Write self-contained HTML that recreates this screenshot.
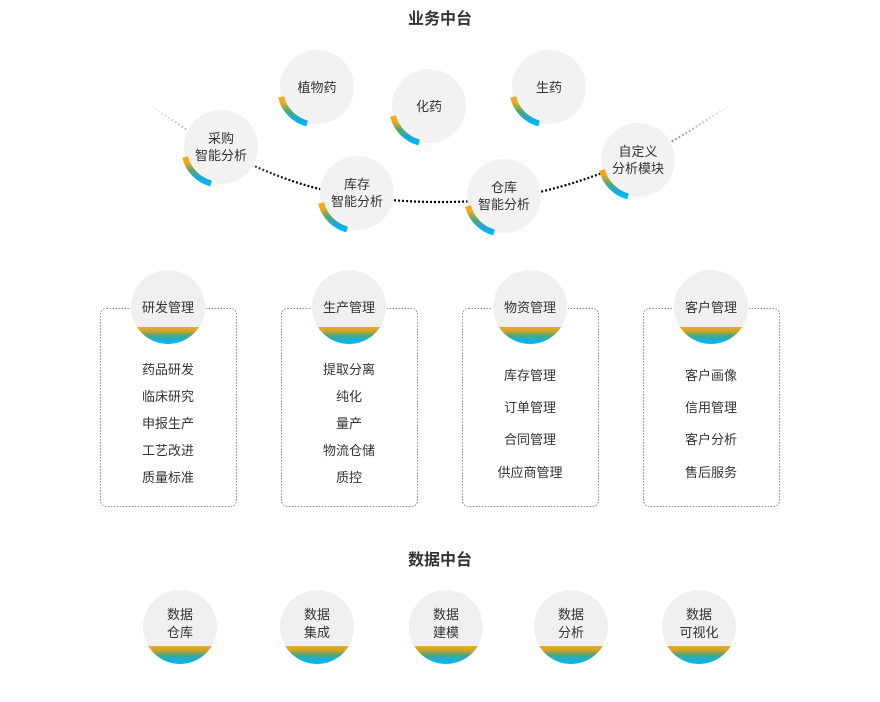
<!DOCTYPE html>
<html><head><meta charset="utf-8"><style>
html,body{margin:0;padding:0;background:#fff;}
svg text{font-family:"Liberation Sans","Noto Sans CJK SC",sans-serif;fill:#333;}
</style></head><body>
<svg width="880" height="697" viewBox="0 0 880 697" xmlns="http://www.w3.org/2000/svg">
<defs>
<linearGradient id="ag" x1="0" y1="0" x2="0" y2="1">
<stop offset="0" stop-color="#f5a623"/><stop offset="0.2" stop-color="#f0aa20"/><stop offset="0.5" stop-color="#5aa66a"/><stop offset="0.8" stop-color="#19a9d8"/><stop offset="1" stop-color="#00b7f5"/>
</linearGradient>
<linearGradient id="bg" x1="0" y1="0" x2="0" y2="1">
<stop offset="0" stop-color="#f5a623"/><stop offset="0.25" stop-color="#c9a52e"/><stop offset="0.5" stop-color="#4fa57a"/><stop offset="0.75" stop-color="#14b0dc"/><stop offset="1" stop-color="#00b8f5"/>
</linearGradient>
<linearGradient id="lf" x1="0" y1="0" x2="1" y2="0">
<stop offset="0" stop-color="#000" stop-opacity="0"/><stop offset="0.25" stop-color="#000" stop-opacity="1"/><stop offset="0.75" stop-color="#000" stop-opacity="1"/><stop offset="1" stop-color="#000" stop-opacity="0"/>
</linearGradient>
<clipPath id="c1"><circle cx="0" cy="0" r="37"/></clipPath>
</defs>

<text x="440" y="24" font-size="16" font-weight="bold" text-anchor="middle">业务中台</text>

<path d="M148,104 C180,125 200,140 221,150 C270,175 310,190 357,196 C410,204 460,203 504,199 C560,190 600,175 638,158 C680,140 705,120 732,104" fill="none" stroke="url(#lf)" stroke-width="2.2" stroke-dasharray="2,2"/>

<g>
<g transform="translate(317,87)"><circle r="37" fill="#f2f2f2"/><path d="M-36,10 A37 37 0 0 0 -10,36.5" fill="none" stroke="url(#ag)" stroke-width="6"/><text y="5" font-size="13" text-anchor="middle">植物药</text></g>
<g transform="translate(429,106)"><circle r="37" fill="#f2f2f2"/><path d="M-36,10 A37 37 0 0 0 -10,36.5" fill="none" stroke="url(#ag)" stroke-width="6"/><text y="5" font-size="13" text-anchor="middle">化药</text></g>
<g transform="translate(549,87)"><circle r="37" fill="#f2f2f2"/><path d="M-36,10 A37 37 0 0 0 -10,36.5" fill="none" stroke="url(#ag)" stroke-width="6"/><text y="5" font-size="13" text-anchor="middle">生药</text></g>
<g transform="translate(221,147)"><circle r="37" fill="#f2f2f2"/><path d="M-36,10 A37 37 0 0 0 -10,36.5" fill="none" stroke="url(#ag)" stroke-width="6"/><text y="-4" font-size="13" text-anchor="middle">采购</text><text y="13" font-size="13" text-anchor="middle">智能分析</text></g>
<g transform="translate(357,193)"><circle r="37" fill="#f2f2f2"/><path d="M-36,10 A37 37 0 0 0 -10,36.5" fill="none" stroke="url(#ag)" stroke-width="6"/><text y="-4" font-size="13" text-anchor="middle">库存</text><text y="13" font-size="13" text-anchor="middle">智能分析</text></g>
<g transform="translate(504,196)"><circle r="37" fill="#f2f2f2"/><path d="M-36,10 A37 37 0 0 0 -10,36.5" fill="none" stroke="url(#ag)" stroke-width="6"/><text y="-4" font-size="13" text-anchor="middle">仓库</text><text y="13" font-size="13" text-anchor="middle">智能分析</text></g>
<g transform="translate(638,160)"><circle r="37" fill="#f2f2f2"/><path d="M-36,10 A37 37 0 0 0 -10,36.5" fill="none" stroke="url(#ag)" stroke-width="6"/><text y="-4" font-size="13" text-anchor="middle">自定义</text><text y="13" font-size="13" text-anchor="middle">分析模块</text></g>
</g>

<g fill="none" stroke="#888" stroke-width="1" stroke-dasharray="1.5,1.5">
<rect x="100.5" y="308.5" width="136" height="198" rx="6"/>
<rect x="281.5" y="308.5" width="136" height="198" rx="6"/>
<rect x="462.5" y="308.5" width="136" height="198" rx="6"/>
<rect x="643.5" y="308.5" width="136" height="198" rx="6"/>
</g>

<g font-size="13">
<g transform="translate(168,307)"><circle r="38" fill="#fff"/><circle r="37" fill="#f0f0f0"/><rect x="-37" y="20" width="74" height="17" fill="url(#bg)" clip-path="url(#c1)"/><text y="5" text-anchor="middle">研发管理</text></g>
<g transform="translate(349,307)"><circle r="38" fill="#fff"/><circle r="37" fill="#f0f0f0"/><rect x="-37" y="20" width="74" height="17" fill="url(#bg)" clip-path="url(#c1)"/><text y="5" text-anchor="middle">生产管理</text></g>
<g transform="translate(530,307)"><circle r="38" fill="#fff"/><circle r="37" fill="#f0f0f0"/><rect x="-37" y="20" width="74" height="17" fill="url(#bg)" clip-path="url(#c1)"/><text y="5" text-anchor="middle">物资管理</text></g>
<g transform="translate(711,307)"><circle r="38" fill="#fff"/><circle r="37" fill="#f0f0f0"/><rect x="-37" y="20" width="74" height="17" fill="url(#bg)" clip-path="url(#c1)"/><text y="5" text-anchor="middle">客户管理</text></g>

<g text-anchor="middle">
<text x="168" y="374">药品研发</text><text x="168" y="401">临床研究</text><text x="168" y="428">申报生产</text><text x="168" y="455">工艺改进</text><text x="168" y="482">质量标准</text>
<text x="349" y="374">提取分离</text><text x="349" y="401">纯化</text><text x="349" y="428">量产</text><text x="349" y="455">物流仓储</text><text x="349" y="482">质控</text>
<text x="530" y="380">库存管理</text><text x="530" y="412">订单管理</text><text x="530" y="444">合同管理</text><text x="530" y="477">供应商管理</text>
<text x="711" y="380">客户画像</text><text x="711" y="412">信用管理</text><text x="711" y="444">客户分析</text><text x="711" y="477">售后服务</text>
</g>
</g>

<text x="440" y="565" font-size="16" font-weight="bold" text-anchor="middle">数据中台</text>

<g font-size="13" text-anchor="middle">
<g transform="translate(180,627)"><circle r="37" fill="#f0f0f0"/><rect x="-37" y="19" width="74" height="18" fill="url(#bg)" clip-path="url(#c1)"/><text y="-8">数据</text><text y="10">仓库</text></g>
<g transform="translate(317,627)"><circle r="37" fill="#f0f0f0"/><rect x="-37" y="19" width="74" height="18" fill="url(#bg)" clip-path="url(#c1)"/><text y="-8">数据</text><text y="10">集成</text></g>
<g transform="translate(446,627)"><circle r="37" fill="#f0f0f0"/><rect x="-37" y="19" width="74" height="18" fill="url(#bg)" clip-path="url(#c1)"/><text y="-8">数据</text><text y="10">建模</text></g>
<g transform="translate(571,627)"><circle r="37" fill="#f0f0f0"/><rect x="-37" y="19" width="74" height="18" fill="url(#bg)" clip-path="url(#c1)"/><text y="-8">数据</text><text y="10">分析</text></g>
<g transform="translate(699,627)"><circle r="37" fill="#f0f0f0"/><rect x="-37" y="19" width="74" height="18" fill="url(#bg)" clip-path="url(#c1)"/><text y="-8">数据</text><text y="10">可视化</text></g>
</g>
</svg>
</body></html>
